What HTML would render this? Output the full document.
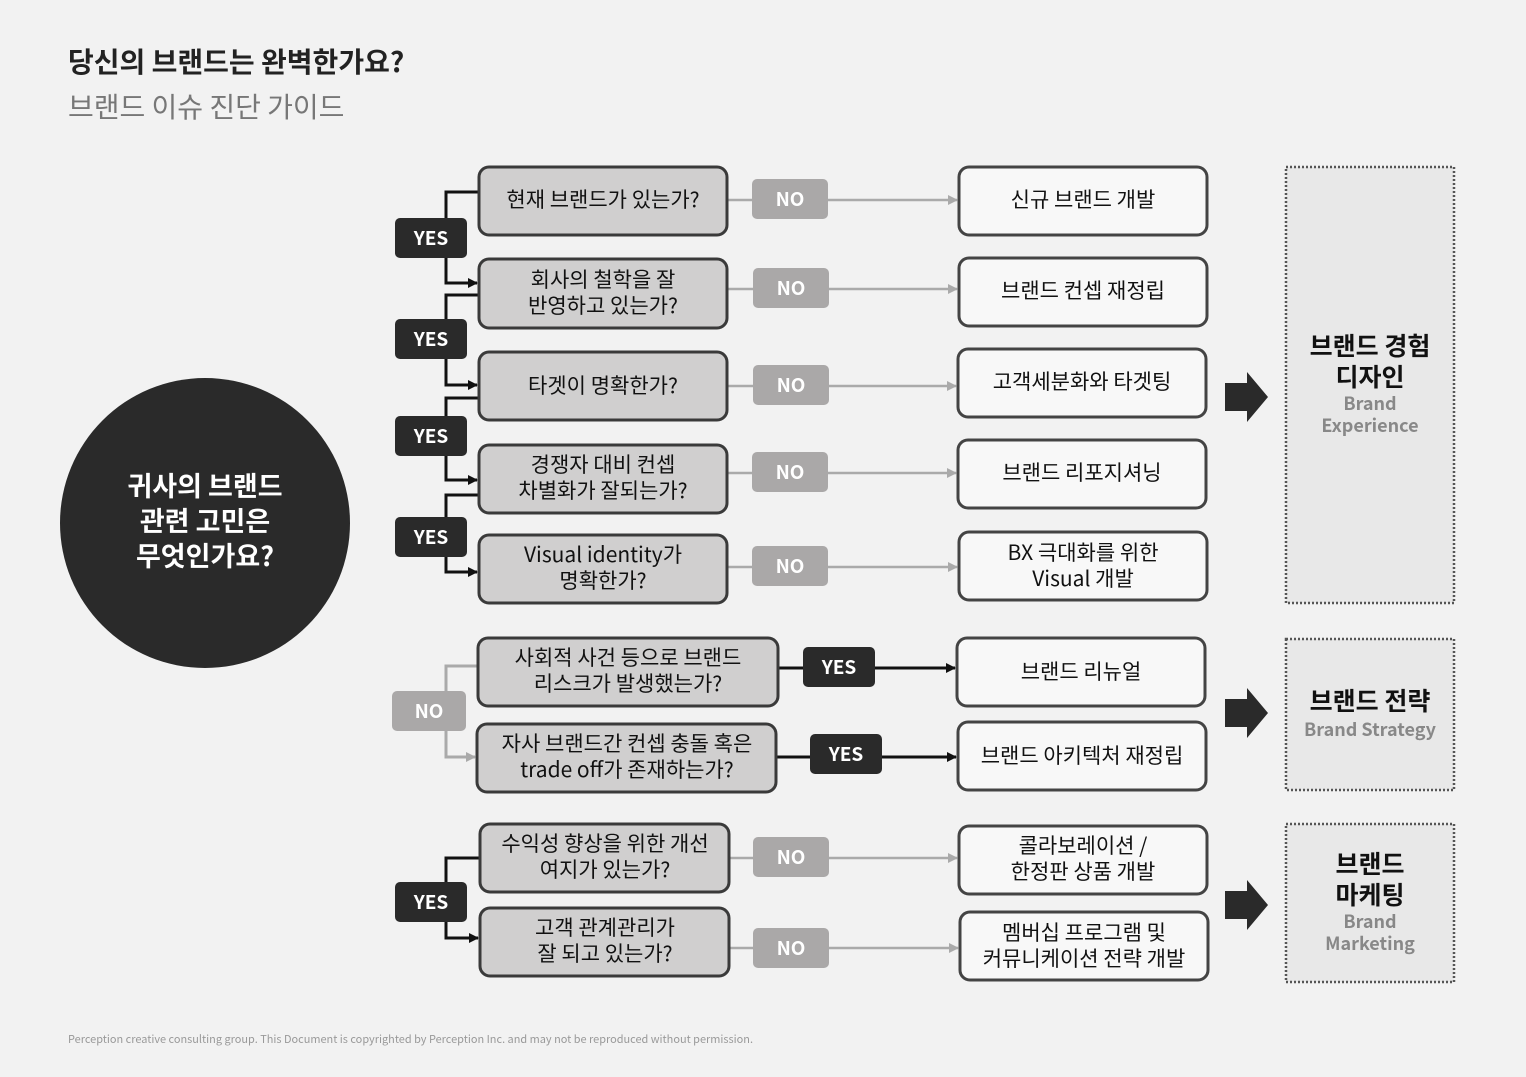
<!DOCTYPE html>
<html><head><meta charset="utf-8"><style>
html,body{margin:0;padding:0;background:#f2f2f2;}
svg{display:block}
text{font-family:"Noto Sans CJK KR","Liberation Sans",sans-serif;}
</style></head><body>
<svg width="1526" height="1077" viewBox="0 0 1526 1077" xmlns="http://www.w3.org/2000/svg">
<defs>
<marker id="ab" markerWidth="10" markerHeight="10" refX="9" refY="5" orient="auto" markerUnits="userSpaceOnUse"><path d="M0,0 L10,5 L0,10z" fill="#111"/></marker>
<marker id="ag" markerWidth="10" markerHeight="10" refX="9" refY="5" orient="auto" markerUnits="userSpaceOnUse"><path d="M0,0 L10,5 L0,10z" fill="#aaa"/></marker>
</defs>
<rect width="1526" height="1077" fill="#f2f2f2"/>
<text x="68" y="72" font-size="28" font-weight="bold" fill="#222">당신의 브랜드는 완벽한가요?</text>
<text x="68" y="117" font-size="28" fill="#777">브랜드 이슈 진단 가이드</text>

<circle cx="205" cy="523" r="145" fill="#2a2a2a"/>
<g fill="#fff" font-size="27" font-weight="bold" text-anchor="middle">
<text x="205" y="496">귀사의 브랜드</text><text x="205" y="531">관련 고민은</text><text x="205" y="566">무엇인가요?</text></g>

<g stroke="#111" stroke-width="3" fill="none">
<path d="M479 192 H446 V283 H477" marker-end="url(#ab)"/>
<path d="M479 295 H446 V385 H477" marker-end="url(#ab)"/>
<path d="M479 398 H446 V480 H477" marker-end="url(#ab)"/>
<path d="M479 495 H446 V572 H477" marker-end="url(#ab)"/>
<path d="M480 858 H446 V938 H478" marker-end="url(#ab)"/>
<path d="M778 668 H955" marker-end="url(#ab)"/>
<path d="M776 757 H956" marker-end="url(#ab)"/>
</g>
<g stroke="#aaa" stroke-width="3" fill="none">
<path d="M478 666 H446 V757 H475" marker-end="url(#ag)"/>
</g>
<g stroke="#aaa" stroke-width="2.5" fill="none">
<path d="M727 200 H957" marker-end="url(#ag)"/>
<path d="M727 289 H957" marker-end="url(#ag)"/>
<path d="M727 386 H956" marker-end="url(#ag)"/>
<path d="M727 473 H956" marker-end="url(#ag)"/>
<path d="M727 567 H957" marker-end="url(#ag)"/>
<path d="M729 858 H957" marker-end="url(#ag)"/>
<path d="M729 948 H958" marker-end="url(#ag)"/>
</g>

<g fill="#d0cfcf" stroke="#3a3a3a" stroke-width="3">
<rect x="479" y="167" width="248" height="68" rx="10"/>
<rect x="479" y="259" width="248" height="69" rx="10"/>
<rect x="479" y="352" width="248" height="68" rx="10"/>
<rect x="479" y="445" width="248" height="68" rx="10"/>
<rect x="479" y="535" width="248" height="68" rx="10"/>
<rect x="478" y="638" width="300" height="68" rx="10"/>
<rect x="477" y="724" width="299" height="68" rx="10"/>
<rect x="480" y="824" width="249" height="68" rx="10"/>
<rect x="480" y="908" width="249" height="68" rx="10"/>
</g>
<g font-size="21" fill="#111" text-anchor="middle">
<text x="603" y="207">현재 브랜드가 있는가?</text>
<text x="603" y="287">회사의 철학을 잘</text><text x="603" y="313">반영하고 있는가?</text>
<text x="603" y="393">타겟이 명확한가?</text>
<text x="603" y="472">경쟁자 대비 컨셉</text><text x="603" y="498">차별화가 잘되는가?</text>
<text x="603" y="562">Visual identity가</text><text x="603" y="588">명확한가?</text>
<text x="628" y="665">사회적 사건 등으로 브랜드</text><text x="628" y="691">리스크가 발생했는가?</text>
<text x="627" y="751">자사 브랜드간 컨셉 충돌 혹은</text><text x="627" y="777">trade off가 존재하는가?</text>
<text x="605" y="851">수익성 향상을 위한 개선</text><text x="605" y="877">여지가 있는가?</text>
<text x="605" y="935">고객 관계관리가</text><text x="605" y="961">잘 되고 있는가?</text>
</g>

<g fill="#f8f8f8" stroke="#444" stroke-width="3">
<rect x="959" y="167" width="248" height="68" rx="10"/>
<rect x="959" y="258" width="248" height="68" rx="10"/>
<rect x="958" y="349" width="248" height="68" rx="10"/>
<rect x="958" y="440" width="248" height="68" rx="10"/>
<rect x="959" y="532" width="248" height="68" rx="10"/>
<rect x="957" y="638" width="248" height="68" rx="10"/>
<rect x="958" y="722" width="248" height="68" rx="10"/>
<rect x="959" y="826" width="248" height="68" rx="10"/>
<rect x="960" y="912" width="248" height="68" rx="10"/>
</g>
<g font-size="21" fill="#111" text-anchor="middle">
<text x="1083" y="207">신규 브랜드 개발</text>
<text x="1083" y="298">브랜드 컨셉 재정립</text>
<text x="1082" y="389">고객세분화와 타겟팅</text>
<text x="1082" y="480">브랜드 리포지셔닝</text>
<text x="1083" y="560">BX 극대화를 위한</text><text x="1083" y="586">Visual 개발</text>
<text x="1081" y="679">브랜드 리뉴얼</text>
<text x="1082" y="763">브랜드 아키텍처 재정립</text>
<text x="1083" y="853">콜라보레이션 /</text><text x="1083" y="879">한정판 상품 개발</text>
<text x="1084" y="940">멤버십 프로그램 및</text><text x="1084" y="966">커뮤니케이션 전략 개발</text>
</g>

<g fill="#aaa8a8">
<rect x="752" y="179" width="76" height="40" rx="5"/>
<rect x="753" y="268" width="76" height="40" rx="5"/>
<rect x="753" y="365" width="76" height="40" rx="5"/>
<rect x="752" y="452" width="76" height="40" rx="5"/>
<rect x="752" y="546" width="76" height="40" rx="5"/>
<rect x="753" y="837" width="76" height="40" rx="5"/>
<rect x="753" y="928" width="76" height="40" rx="5"/>
<rect x="392" y="691" width="74" height="40" rx="5"/>
</g>
<g fill="#2a2a2a">
<rect x="395" y="218" width="72" height="40" rx="5"/>
<rect x="395" y="319" width="72" height="40" rx="5"/>
<rect x="395" y="416" width="72" height="40" rx="5"/>
<rect x="395" y="517" width="72" height="40" rx="5"/>
<rect x="395" y="882" width="72" height="40" rx="5"/>
<rect x="803" y="647" width="72" height="40" rx="5"/>
<rect x="810" y="734" width="72" height="40" rx="5"/>
</g>
<g font-size="19" font-weight="bold" fill="#fff" text-anchor="middle">
<text x="790" y="206">NO</text><text x="791" y="295">NO</text><text x="791" y="392">NO</text>
<text x="790" y="479">NO</text><text x="790" y="573">NO</text><text x="791" y="864">NO</text>
<text x="791" y="955">NO</text><text x="429" y="718">NO</text>
<text x="431" y="245">YES</text><text x="431" y="346">YES</text><text x="431" y="443">YES</text>
<text x="431" y="544">YES</text><text x="431" y="909">YES</text>
<text x="839" y="674">YES</text><text x="846" y="761">YES</text>
</g>

<g fill="#2a2a2a">
<path d="M1225 383 H1247 V372 L1268 397 L1247 422 V411 H1225z"/>
<path d="M1225 699 H1247 V688 L1268 713 L1247 738 V727 H1225z"/>
<path d="M1225 891 H1247 V880 L1268 905 L1247 930 V919 H1225z"/>
</g>

<g fill="#e8e8e8" stroke="#555" stroke-width="2.5" stroke-dasharray="2 2">
<rect x="1286" y="167" width="168" height="436"/>
<rect x="1286" y="639" width="168" height="151"/>
<rect x="1286" y="824" width="168" height="158"/>
</g>
<g text-anchor="middle">
<text x="1370" y="355" font-size="25" font-weight="bold" fill="#111">브랜드 경험</text>
<text x="1370" y="386" font-size="25" font-weight="bold" fill="#111">디자인</text>
<text x="1370" y="410" font-size="18" font-weight="bold" fill="#888">Brand</text>
<text x="1370" y="432" font-size="18" font-weight="bold" fill="#888">Experience</text>
<text x="1370" y="710" font-size="25" font-weight="bold" fill="#111">브랜드 전략</text>
<text x="1370" y="736" font-size="18" font-weight="bold" fill="#888">Brand Strategy</text>
<text x="1370" y="873" font-size="25" font-weight="bold" fill="#111">브랜드</text>
<text x="1370" y="904" font-size="25" font-weight="bold" fill="#111">마케팅</text>
<text x="1370" y="928" font-size="18" font-weight="bold" fill="#888">Brand</text>
<text x="1370" y="950" font-size="18" font-weight="bold" fill="#888">Marketing</text>
</g>

<text x="68" y="1043" font-size="11" fill="#999" textLength="685" lengthAdjust="spacingAndGlyphs">Perception creative consulting group. This Document is copyrighted by Perception Inc. and may not be reproduced without permission.</text>
</svg>
</body></html>
